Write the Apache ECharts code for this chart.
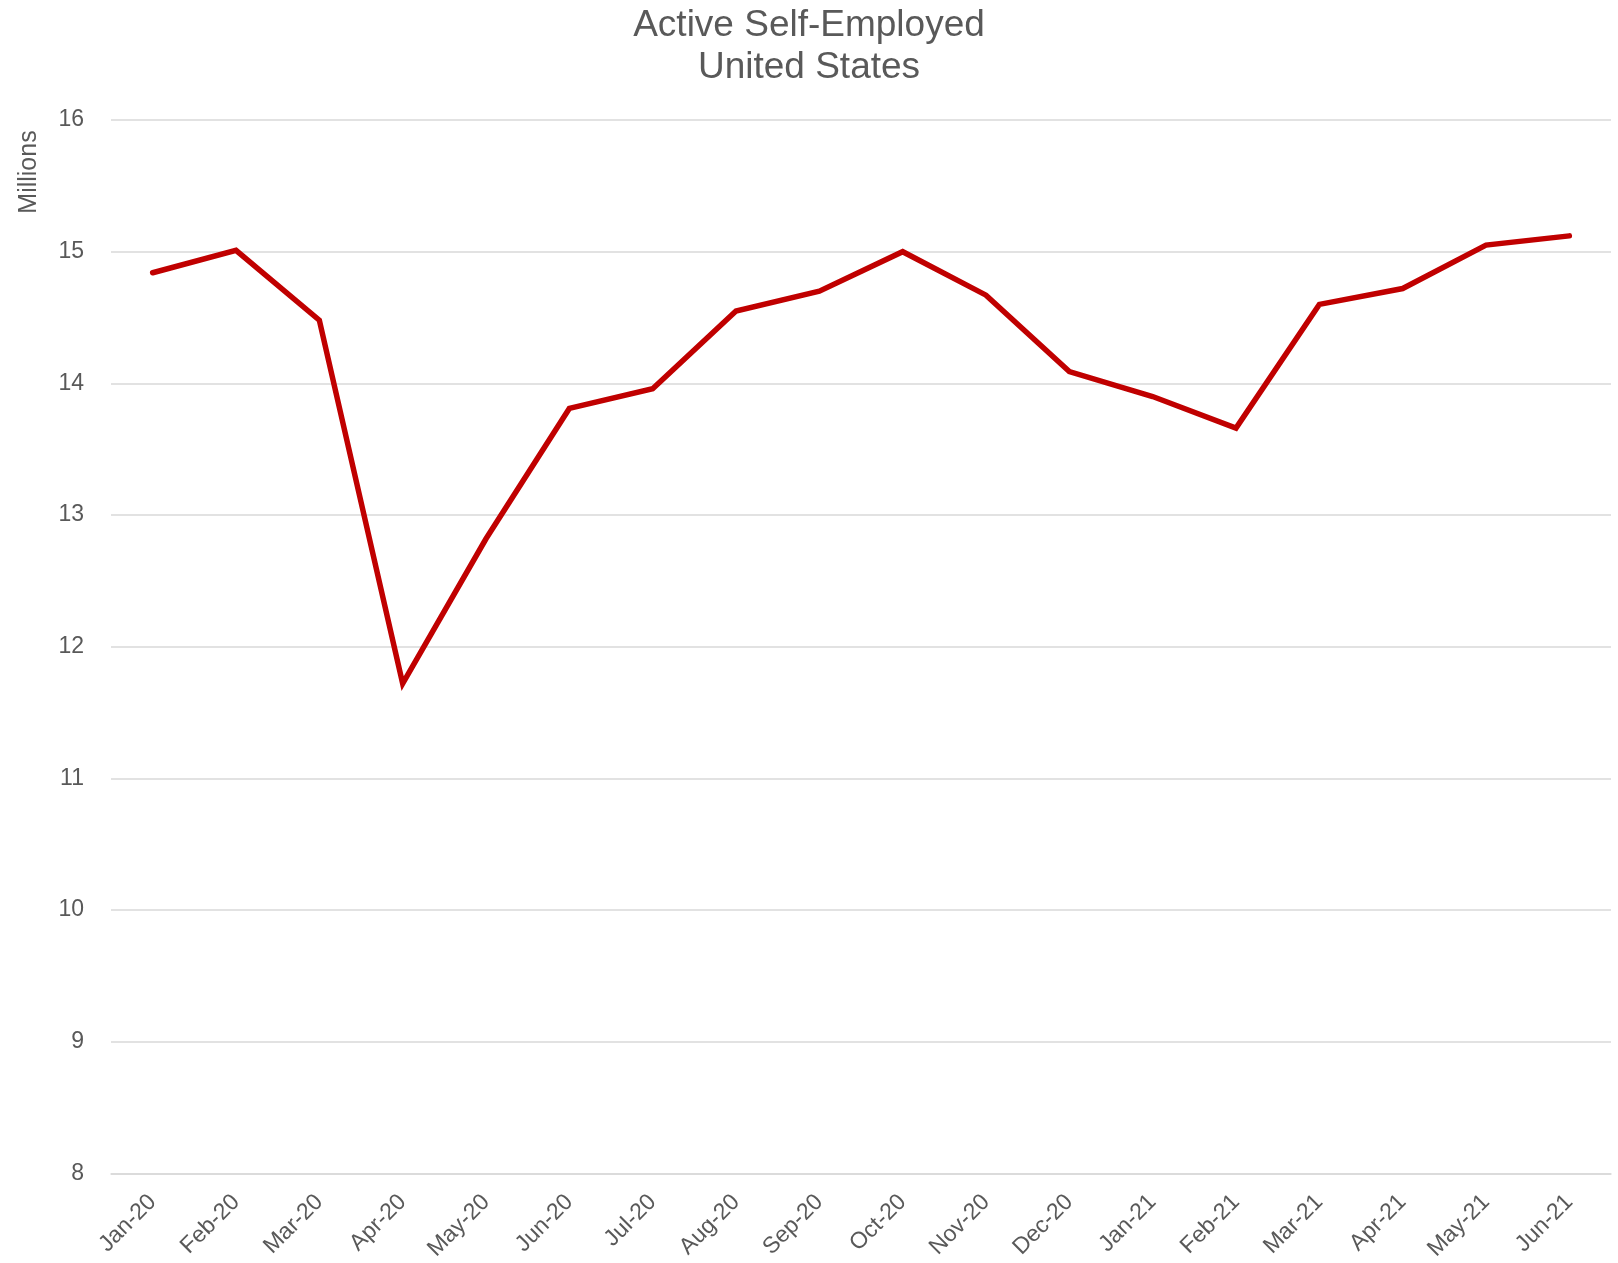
<!DOCTYPE html>
<html>
<head>
<meta charset="utf-8">
<script src="https://cdn.jsdelivr.net/npm/echarts@6/dist/echarts.min.js"></script>
<style>
html,body{margin:0;padding:0;background:#fff;}
#chart{width:1618px;height:1263px;}
</style>
</head>
<body>
<div id="chart"></div>
<script>
const categories = ['Jan-20','Feb-20','Mar-20','Apr-20','May-20','Jun-20','Jul-20','Aug-20','Sep-20','Oct-20','Nov-20','Dec-20','Jan-21','Feb-21','Mar-21','Apr-21','May-21','Jun-21'];
const selfEmployed = [14.84, 15.01, 14.48, 11.72, 12.82, 13.81, 13.96, 14.55, 14.70, 15.00, 14.67, 14.09, 13.90, 13.66, 14.60, 14.72, 15.05, 15.12];
const titleLines = ['Active Self-Employed', 'United States'];
const yAxisTitle = 'Millions';

const FONT = '"Liberation Sans", Arial, sans-serif';
const chart = echarts.init(document.getElementById('chart'));
chart.setOption({
  backgroundColor: '#ffffff',
  animation: false,
  title: {
    text: titleLines.join('\n'),
    left: 'center',
    top: 0,
    textStyle: { color: '#595959', fontSize: 37, fontWeight: 'normal', fontFamily: FONT, lineHeight: 42 }
  },
  grid: { left: 111, right: 7, top: 120, bottom: 88, containLabel: false },
  xAxis: {
    type: 'category',
    data: categories,
    boundaryGap: true,
    axisLine: { show: true, lineStyle: { color: '#d9d9d9', width: 1.5 } },
    axisTick: { show: false },
    axisLabel: { rotate: 45, color: '#595959', fontSize: 23, fontFamily: FONT, margin: 25, interval: 0 }
  },
  yAxis: {
    type: 'value',
    min: 8, max: 16, interval: 1,
    axisLine: { show: false },
    axisTick: { show: false },
    axisLabel: { color: '#595959', fontSize: 23, fontFamily: FONT, margin: 27 },
    splitLine: { lineStyle: { color: '#d9d9d9', width: 1.5 } }
  },
  graphic: [{
    type: 'text',
    x: 29, y: 172,
    rotation: Math.PI / 2,
    style: { text: yAxisTitle, fill: '#595959', font: '25px ' + FONT, align: 'center', verticalAlign: 'middle' }
  }],
  series: [{
    type: 'line',
    data: selfEmployed,
    symbol: 'none',
    lineStyle: { color: '#C00000', width: 5.5, cap: 'round', join: 'miter' },
    itemStyle: { color: '#C00000' }
  }]
});
</script>
</body>
</html>
